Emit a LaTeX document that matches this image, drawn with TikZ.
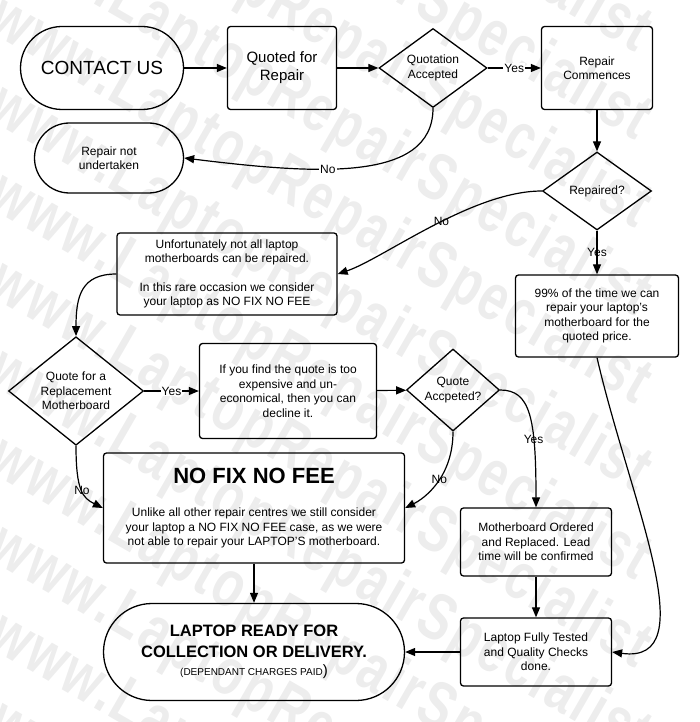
\documentclass[tikz,border=0pt]{standalone}
\usepackage{fontspec}
\setmainfont{Liberation Sans}
\newfontfamily\wmfont[LetterSpace=6]{Liberation Sans}
\usetikzlibrary{shapes.geometric, arrows.meta}

\tikzset{
  box/.style={draw, line width=1.3pt, rounded corners=3pt, align=center,
              inner sep=2pt, font=\fontsize{12}{14.5}\selectfont},
  pill/.style={draw, line width=1.3pt, align=center, inner sep=2pt,
               font=\fontsize{12}{14.5}\selectfont},
  choice/.style={draw, diamond, line width=1.3pt, align=center, inner sep=0pt,
                 font=\fontsize{12}{14.5}\selectfont},
  link/.style={line width=1.2pt, -{Triangle[length=10pt,width=8pt]}},
  lbl/.style={fill=white, inner sep=1pt, font=\fontsize{12}{14}\selectfont},
  tag/.style={inner sep=1pt, font=\fontsize{12}{14}\selectfont},
  wmark/.style={text=gray!14, font=\wmfont\bfseries\fontsize{66}{66}\selectfont,
                anchor=base west, inner sep=0pt}
}

\begin{document}
\begin{tikzpicture}[x=1pt, y=-1pt]
  \useasboundingbox (0,0) rectangle (700,722);

  % watermark
  \foreach \k in {-5,...,9}{
    \begin{scope}[shift={(-15,-59+88*\k)}, rotate=-30, xscale=0.75, transform shape]
      \node[wmark] (wm\k) at (0,0) {www.LaptopRepairSpecialist};
    \end{scope}
  }

  \node[pill, minimum width=163pt, minimum height=83pt, rounded corners=41.5pt,
        font=\fontsize{19}{22}\selectfont] (contact) at (102,68) {CONTACT US};
  \node[box, minimum width=109pt, minimum height=83pt,
        font=\fontsize{15}{18}\selectfont] (quoted) at (282,68) {Quoted for\\Repair};
  \node[choice, minimum width=108pt, minimum height=79pt] (quoteacc) at (433,68) {Quotation\\Accepted};
  \node[box, minimum width=111pt, minimum height=83pt] (commence) at (597,68) {Repair\\Commences};
  \node[pill, minimum width=149pt, minimum height=70pt, rounded corners=35pt] (notdone) at (109,158) {Repair not\\undertaken};
  \node[choice, minimum width=109pt, minimum height=78pt] (repaired) at (597,191) {Repaired?};
  \node[box, minimum width=220pt, minimum height=82pt] (sorry) at (227,274)
    {Unfortunately not all laptop\\motherboards can be repaired.\\[14pt]In this rare occasion we consider\\your laptop as NO FIX NO FEE};
  \node[box, minimum width=163pt, minimum height=82pt] (ninety) at (597,316)
    {99\% of the time we can\\repair your laptop's\\motherboard for the\\quoted price.};
  \node[choice, minimum width=135pt, minimum height=94pt] (replace) at (76,391) {Quote for a\\Replacement\\Motherboard};
  \node[box, minimum width=177pt, minimum height=95pt] (decline) at (288,391)
    {If you find the quote is too\\expensive and un-\\economical, then you can\\decline it.};
  \node[choice, minimum width=93pt, minimum height=67pt] (quoteok) at (453,390) {Quote\\Accpeted?};
  \node[box, minimum width=301pt, minimum height=110pt] (nofix) at (254,508)
    {{\fontsize{22}{26}\selectfont\bfseries NO FIX NO FEE}\\[19pt]Unlike all other repair centres we still consider\\your laptop a NO FIX NO FEE case, as we were\\not able to repair your LAPTOP'S motherboard.};
  \node[pill, minimum width=301pt, minimum height=97pt, rounded corners=48.5pt,
        font=\fontsize{16.5}{21}\selectfont\bfseries] (ready) at (254,652)
    {LAPTOP READY FOR\\COLLECTION OR DELIVERY.\\[-3pt]{\mdseries\fontsize{10}{12}\selectfont (DEPENDANT CHARGES PAID}{\mdseries\fontsize{15}{15}\selectfont )}};
  \node[box, minimum width=151pt, minimum height=68pt] (ordered) at (536,542)
    {Motherboard Ordered\\and Replaced. Lead\\time will be confirmed};
  \node[box, minimum width=151pt, minimum height=68pt] (tested) at (536,652)
    {Laptop Fully Tested\\and Quality Checks\\done.};

  \draw[link] (contact) -- (quoted);
  \draw[link] (quoted) -- (quoteacc);
  \draw[link] (quoteacc) -- node[lbl] {Yes} (commence);
  \draw[link] (quoteacc.south) .. controls +(0,75) and +(130,16) .. node[lbl, pos=.6] {No} (notdone.east);
  \draw[link] (commence) -- (repaired);
  \draw[link] (repaired.west) .. controls +(-70,0) and +(45,-15) .. node[tag, pos=.45] {No} (sorry.east);
  \draw[link] (repaired) -- node[tag] {Yes} (ninety);
  \draw[link] (sorry.west) .. controls +(-35,0) and +(0,-40) .. (replace.north);
  \draw[link] (replace) -- node[lbl] {Yes} (decline);
  \draw[link] (decline) -- (quoteok);
  \draw[link] (quoteok.east) .. controls +(30,0) and +(0,-90) .. node[tag, pos=.68] {Yes} (ordered.north);
  \draw[link] (quoteok.south) .. controls +(0,45) and +(20,-10) .. node[tag, pos=.45] {No} (nofix.east);
  \draw[link] (replace.south) .. controls +(0,45) and +(-20,-10) .. node[tag, pos=.5] {No} (nofix.west);
  \draw[link] (nofix) -- (ready);
  \draw[link] (ordered) -- (tested);
  \draw[link] (tested) -- (ready);
  \draw[link] (ninety.south) .. controls +(33,143) and +(94,13) .. (tested.east);
\end{tikzpicture}
\end{document}
